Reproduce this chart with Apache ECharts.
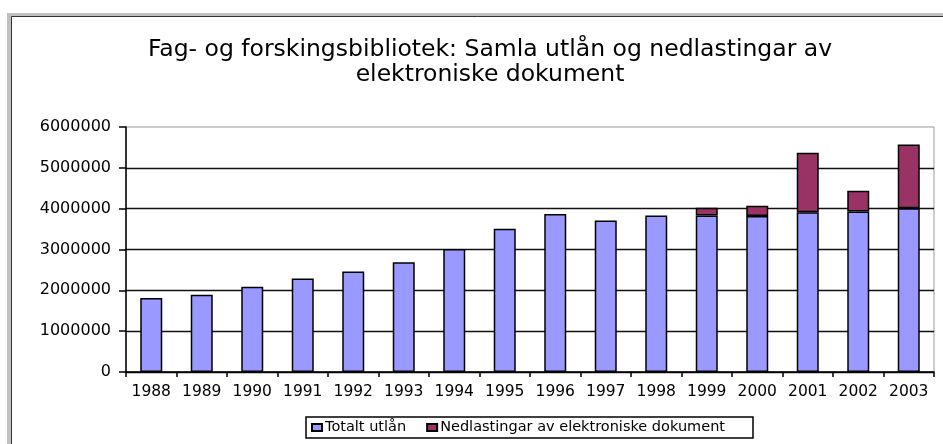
<!DOCTYPE html>
<html>
<head>
<meta charset="utf-8">
<script src="https://cdn.jsdelivr.net/npm/echarts@6/dist/echarts.min.js"></script>
<style>
    html, body { margin: 0; padding: 0; background: #fff; }
    #chart { width: 943px; height: 444px; }
</style>
</head>
<body>
<div id="chart"></div>
<script>
// årstal (kategoriar)
var years = ['1988', '1989', '1990', '1991', '1992', '1993', '1994', '1995',
             '1996', '1997', '1998', '1999', '2000', '2001', '2002', '2003'];

// Totalt utlån
var utlan = [1810000, 1890000, 2090000, 2290000, 2460000, 2690000, 3010000, 3510000,
             3870000, 3710000, 3830000, 3830000, 3820000, 3910000, 3930000, 4010000];

// Nedlastingar av elektroniske dokument (stabla oppå utlån)
var nedlasting = [null, null, null, null, null, null, null, null,
                  null, null, null, 190000, 250000, 1460000, 510000, 1560000];

var titleText = 'Fag- og forskingsbibliotek: Samla utlån og nedlastingar av\nelektroniske dokument';
var seriesNames = ['Totalt utlån', 'Nedlastingar av elektroniske dokument'];

var font = 'DejaVu Sans';
var chart = echarts.init(document.getElementById('chart'));

var opt = {
    backgroundColor: '#fff',
    animation: false,
    textStyle: { fontFamily: font, color: '#000' },
    title: {
        text: titleText,
        left: 485,
        top: 32,
        textAlign: 'center',
        textStyle: { fontFamily: font, fontSize: 23.5, fontWeight: 'normal', color: '#000', lineHeight: 25 }
    },
    // ramme rundt heile diagrammet
    graphic: [
        { type: 'rect', silent: true, z: -1, shape: { x: 9, y: 15, width: 1000, height: 1000 },
          style: { fill: null, stroke: '#c0c0c0', lineWidth: 4 } },
        { type: 'rect', silent: true, z: -1, shape: { x: 11.5, y: 16.5, width: 1000, height: 1000 },
          style: { fill: null, stroke: '#333', lineWidth: 1 } }
    ],
    legend: {
        data: seriesNames,
        left: 306,
        top: 417,
        padding: [3, 28, 3, 5],
        itemGap: 20,
        itemWidth: 10,
        itemHeight: 7,
        icon: 'rect',
        borderColor: '#000',
        borderWidth: 1.5,
        textStyle: { fontFamily: font, fontSize: 14.5, color: '#000', padding: [0, 0, 0, -2] }
    },
    grid: {
        left: 126, right: 9, top: 127, bottom: 72,
        show: true, borderColor: '#999', borderWidth: 1, backgroundColor: '#fff'
    },
    xAxis: {
        type: 'category',
        data: years,
        axisLine: { lineStyle: { color: '#000', width: 1.5 } },
        axisTick: { show: true, length: 5, lineStyle: { color: '#000', width: 1.5 } },
        axisLabel: { fontFamily: font, fontSize: 15.5, color: '#000', margin: 12, interval: 0 }
    },
    yAxis: {
        type: 'value',
        min: 0,
        max: 6000000,
        interval: 1000000,
        axisLine: { show: true, lineStyle: { color: '#000', width: 1.5 } },
        axisTick: { show: true, length: 7, lineStyle: { color: '#000', width: 1.5 } },
        axisLabel: {
            fontFamily: font, fontSize: 16, color: '#000', margin: 15,
            formatter: function (v) { return String(v); }
        },
        splitLine: { show: true, showMaxLine: false, lineStyle: { color: '#111', width: 1.3 } }
    },
    series: [
        {
            name: seriesNames[0],
            type: 'bar',
            stack: 'total',
            barWidth: 22,
            data: utlan,
            itemStyle: { color: '#9999ff', borderColor: '#000', borderWidth: 1.5 }
        },
        {
            name: seriesNames[1],
            type: 'bar',
            stack: 'total',
            barWidth: 22,
            data: nedlasting,
            itemStyle: { color: '#993366', borderColor: '#000', borderWidth: 1.5 }
        }
    ]
};

chart.setOption(opt);
</script>
</body>
</html>
